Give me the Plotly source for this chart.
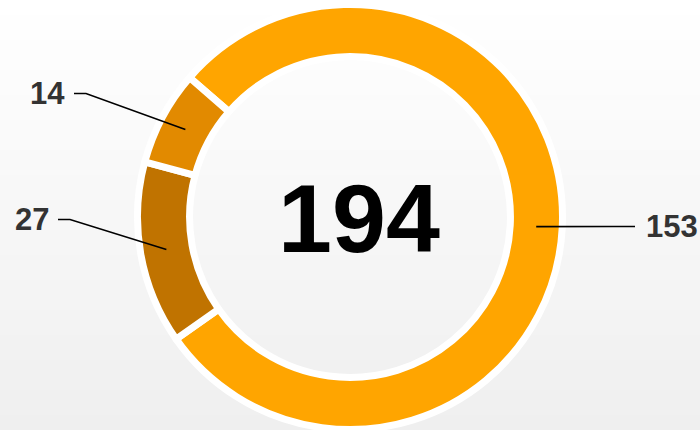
import math
import plotly.graph_objects as go

# Slice data (drawn clockwise in this order)
labels = ["Group A", "Group B", "Group C"]
values = [153, 27, 14]
colors = ["#FFA500", "#C07300", "#E28A00"]

W, H = 700, 430
CX, CY = 350, 217          # donut centre, px
R = 212.5                  # outer radius incl. half of the white stroke
HOLE = 0.755
STROKE = 7
START_ANGLE = -49          # degrees clockwise from 12 o'clock

# label placement (px): y of each label row, side, and column edge
label_layout = [
    {"y": 226.5, "side": "right", "edge": 645},
    {"y": 219.5, "side": "left", "edge": 50},
    {"y": 93.5, "side": "left", "edge": 66},
]


def px(x):
    return x / W


def py(y):
    return 1 - y / H


fig = go.Figure()
fig.add_trace(go.Pie(
    labels=labels,
    values=values,
    sort=False,
    direction="clockwise",
    rotation=START_ANGLE,
    hole=HOLE,
    marker=dict(colors=colors, line=dict(color="#ffffff", width=STROKE)),
    textinfo="none",
    hoverinfo="label+value",
    showlegend=False,
    domain=dict(x=[px(CX - R), px(CX + R)], y=[py(CY + R), py(CY - R)]),
))

shapes = []
# soft vertical background gradient
bands = 86
for i in range(bands):
    t = i / (bands - 1)
    c = round(255 - 16 * t)
    shapes.append(dict(
        type="rect", xref="paper", yref="paper", layer="below",
        x0=0, x1=1, y0=py((i + 1) * H / bands), y1=py(i * H / bands),
        fillcolor=f"rgb({c},{c},{c})", line=dict(width=0),
    ))

annotations = []
total = sum(values)
r_mid = (R + R * HOLE) / 2
acc = 0
for v, lay in zip(values, label_layout):
    mid = START_ANGLE + (acc + v / 2) / total * 360
    acc += v
    a = math.radians(mid)
    ax = CX + r_mid * math.sin(a)
    ay = CY - r_mid * math.cos(a)
    ly = lay["y"]
    if lay["side"] == "left":
        x_end = lay["edge"] + 8
        x_elb = x_end + 12
        xanchor = "right"
    else:
        x_end = lay["edge"] - 10
        x_elb = x_end - 22
        xanchor = "left"
    path = f"M {px(ax)},{py(ay)} L {px(x_elb)},{py(ly)} L {px(x_end)},{py(ly)}"
    shapes.append(dict(type="path", xref="paper", yref="paper", path=path,
                       line=dict(color="#000000", width=1.6)))
    annotations.append(dict(
        x=px(lay["edge"]), y=py(ly), xref="paper", yref="paper",
        text=f"<b>{v}</b>", showarrow=False, xanchor=xanchor, yanchor="middle",
        font=dict(family="Liberation Sans, Arial, sans-serif", size=31, color="#333333"),
        borderpad=0,
    ))

# total in the centre of the ring
annotations.append(dict(
    x=px(359), y=py(218), xref="paper", yref="paper",
    text=f"<b>{total}</b>", showarrow=False, xanchor="center", yanchor="middle",
    font=dict(family="Liberation Sans, Arial, sans-serif", size=97, color="#000000"),
))

fig.update_layout(
    width=W, height=H,
    margin=dict(l=0, r=0, t=0, b=0),
    paper_bgcolor="#ffffff",
    plot_bgcolor="#ffffff",
    shapes=shapes,
    annotations=annotations,
)

fig.write_html("out.html")
